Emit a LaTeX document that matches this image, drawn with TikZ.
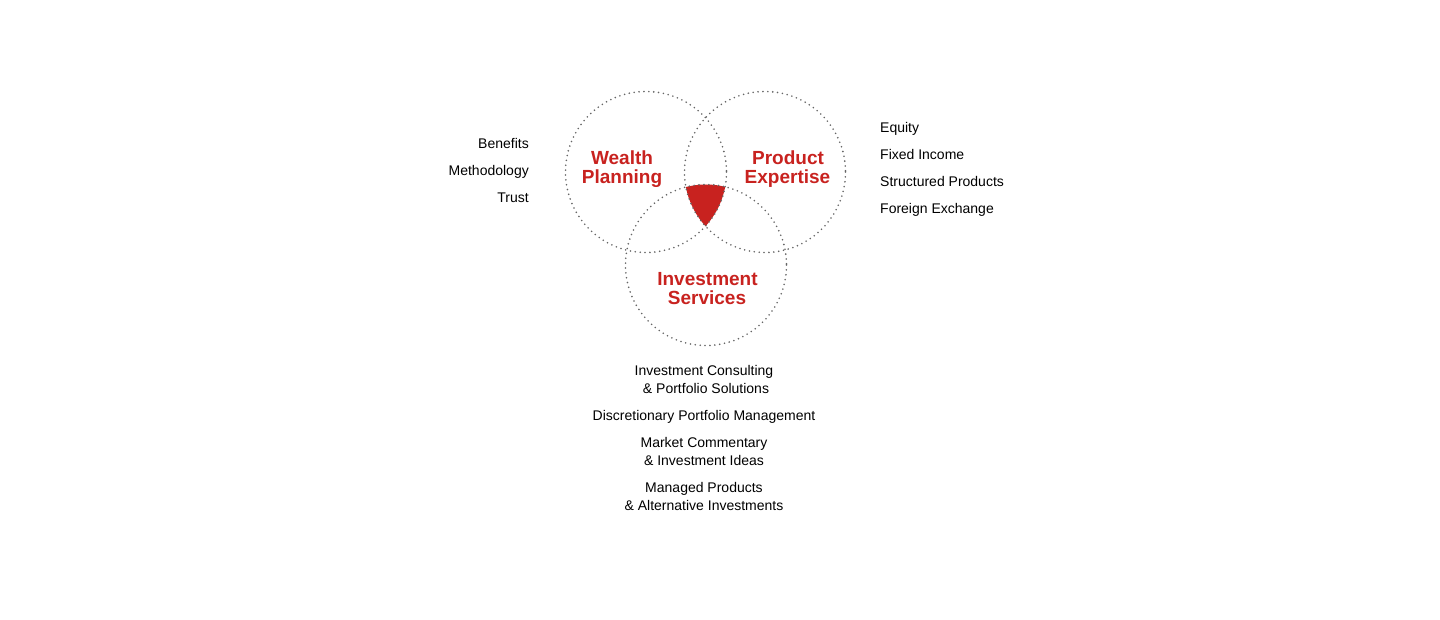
\documentclass[tikz,border=0pt]{standalone}
\usepackage{fontspec}
\setmainfont{Liberation Sans}
\definecolor{brandred}{HTML}{C8221F}
\definecolor{dotgray}{HTML}{666666}
\tikzset{
  ring/.style={draw=dotgray, line width=1.8pt, line cap=round, dash pattern=on 0pt off 4.9pt},
  item/.style={font=\fontsize{14}{18}\selectfont, text=black, inner sep=0pt, anchor=base},
  itemr/.style={item, anchor=base east},
  iteml/.style={item, anchor=base west},
  itemc/.style={item, anchor=base},
  title/.style={font=\fontsize{19}{19}\bfseries\selectfont, text=brandred, inner sep=0pt, anchor=base}
}
\begin{document}
\begin{tikzpicture}[x=1pt,y=-1pt]
\useasboundingbox (0,0) rectangle (1440,620);
% intersection region
\begin{scope}
  \clip (646,172) circle[radius=80.5];
  \clip (765,172) circle[radius=80.5];
  \fill[brandred] (706,265) circle[radius=80.5];
\end{scope}
% circles
\draw[ring] (646,172) circle[radius=80.5];
\draw[ring] (765,172) circle[radius=80.5];
\draw[ring] (706,265) circle[radius=80.5];
% titles
\node[title] (wp1) at (622,164.5) {Wealth};
\node[title] (wp2) at (622,183.5) {Planning};
\node[title] (pe1) at (788,164.5) {Product};
\node[title] (pe2) at (787.5,183.5) {Expertise};
\node[title] (is1) at (707.5,285.5) {Investment};
\node[title] (is2) at (707,304.5) {Services};
% left list
\node[itemr] (l1) at (529,149) {Benefits};
\node[itemr] (l2) at (529,176) {Methodology};
\node[itemr] (l3) at (529,203) {Trust};
% right list
\node[iteml] (r1) at (880,133) {Equity};
\node[iteml] (r2) at (880,160) {Fixed Income};
\node[iteml] (r3) at (880,187) {Structured Products};
\node[iteml] (r4) at (880,214) {Foreign Exchange};
% bottom list
\node[itemc] (b1) at (704,375) {Investment Consulting};
\node[itemc] (b2) at (706,393) {\& Portfolio Solutions};
\node[itemc] (b3) at (704,420) {Discretionary Portfolio Management};
\node[itemc] (b4) at (704,447) {Market Commentary};
\node[itemc] (b5) at (704,465) {\& Investment Ideas};
\node[itemc] (b6) at (704,492) {Managed Products};
\node[itemc] (b7) at (704,510) {\& Alternative Investments};
\end{tikzpicture}
\end{document}
